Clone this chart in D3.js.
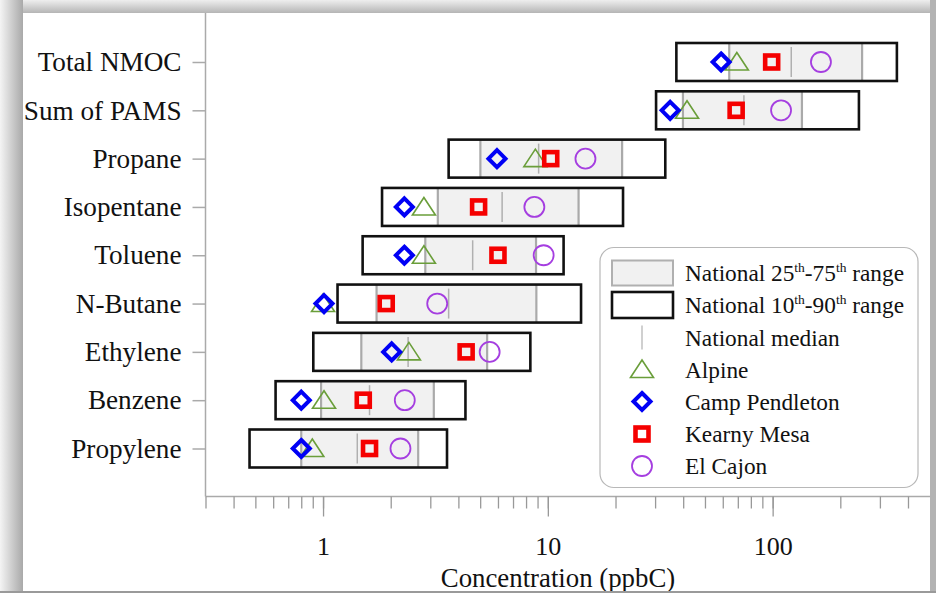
<!DOCTYPE html>
<html>
<head>
<meta charset="utf-8">
<script src="https://cdn.jsdelivr.net/npm/d3@7"></script>
<style>
  body { margin: 0; background: #fff; }
  svg { display: block; font-family: "Liberation Serif", "Times New Roman", serif; }
</style>
</head>
<body>
<div id="chart"></div>
<script>
const categories = ["Total NMOC", "Sum of PAMS", "Propane", "Isopentane", "Toluene",
    "N-Butane", "Ethylene", "Benzene", "Propylene"];

// national percentiles (ppbC)
const p10 = [37.3, 30.3, 3.62, 1.83, 1.50, 1.16, 0.905, 0.615, 0.471];
const p25 = [64.1, 39.9, 5.01, 3.24, 2.85, 1.73, 1.48, 0.98, 0.80];
const p50 = [121, 74.5, 9.1, 6.26, 4.63, 3.62, 2.39, 1.61, 1.42];
const p75 = [250, 135, 21.4, 13.7, 8.86, 8.89, 5.37, 3.11, 2.65];
const p90 = [357, 242, 33.3, 21.6, 11.75, 14.05, 8.36, 4.30, 3.56];

// sites
const alpine = [69.3, 41.6, 8.8, 2.81, 2.81, 1.0, 2.41, 1.01, 0.896];
const campPendleton = [59, 35, 5.94, 2.30, 2.30, 1.01, 2.02, 0.80, 0.80];
const kearnyMesa = [99, 68.8, 10.3, 4.92, 6.0, 1.91, 4.33, 1.51, 1.61];
const elCajon = [164, 109, 14.7, 8.71, 9.58, 3.22, 5.51, 2.31, 2.21];

const majorTicks = [1, 10, 100];

const width = 936;
const height = 593;

const svg = d3.select("#chart")
    .append("svg")
    .attr("width", width)
    .attr("height", height);

// picture frame / shadow
const defs = svg.append("defs");
const gl = defs.append("linearGradient").attr("id", "shadeL").attr("x1", 0).attr("x2", 1).attr("y1", 0).attr("y2", 0);
gl.append("stop").attr("offset", "0%").attr("stop-color", "#f4f4f4");
gl.append("stop").attr("offset", "100%").attr("stop-color", "#a9a9a9");
const gt = defs.append("linearGradient").attr("id", "shadeT").attr("x1", 0).attr("x2", 0).attr("y1", 0).attr("y2", 1);
gt.append("stop").attr("offset", "0%").attr("stop-color", "#eeeeee");
gt.append("stop").attr("offset", "100%").attr("stop-color", "#b5b5b5");

svg.append("rect").attr("width", width).attr("height", height).attr("fill", "#c4c4c4");
svg.append("rect").attr("x", 0).attr("y", 0).attr("width", width).attr("height", 13).attr("fill", "url(#shadeT)");
svg.append("rect").attr("x", 0).attr("y", 0).attr("width", 23).attr("height", height).attr("fill", "url(#shadeL)");
svg.append("rect").attr("x", 23).attr("y", 13).attr("width", 907).attr("height", 578).attr("fill", "#fff");

const x = d3.scaleLog()
    .domain([0.3, 490])
    .range([205.5, 927.8]);

const y = d3.scalePoint()
    .domain(categories)
    .range([62, 448.5]);

const axisY = 496.5;
const boxH = 38;

// axes
svg.append("line")
    .attr("x1", 205.5).attr("x2", 205.5)
    .attr("y1", 13).attr("y2", axisY)
    .attr("stroke", "#aaa").attr("stroke-width", 1.5);
svg.append("line")
    .attr("x1", 205.5).attr("x2", 930)
    .attr("y1", axisY).attr("y2", axisY)
    .attr("stroke", "#aaa").attr("stroke-width", 1.5);

const minorAxis = svg.append("g")
    .attr("transform", "translate(0," + axisY + ")")
    .call(d3.axisBottom(x).tickSize(12).tickFormat(""));
minorAxis.select(".domain").remove();

const majorAxis = svg.append("g")
    .attr("transform", "translate(0," + axisY + ")")
    .call(d3.axisBottom(x).tickValues(majorTicks).tickSize(20).tickPadding(20)
        .tickFormat(d3.format("d")));
majorAxis.select(".domain").remove();

svg.selectAll(".tick line").attr("stroke", "#999").attr("stroke-width", 1.3);
majorAxis.selectAll("text")
    .attr("font-family", "Liberation Serif")
    .attr("font-size", 26)
    .attr("fill", "#111");

const yAxis = svg.append("g")
    .attr("transform", "translate(205.5,0)")
    .call(d3.axisLeft(y).tickSize(13).tickPadding(11));
yAxis.select(".domain").remove();
yAxis.selectAll(".tick line").attr("stroke", "#aaa").attr("stroke-width", 1.5);
yAxis.selectAll("text")
    .attr("font-family", "Liberation Serif")
    .attr("font-size", 27.2)
    .attr("fill", "#111");

svg.append("text")
    .attr("x", 558)
    .attr("y", 587)
    .attr("text-anchor", "middle")
    .attr("font-size", 26.8)
    .attr("fill", "#111")
    .text("Concentration (ppbC)");

// boxes
const rows = categories.map((c, i) => ({
    name: c, p10: p10[i], p25: p25[i], p50: p50[i], p75: p75[i], p90: p90[i],
    alpine: alpine[i], camp: campPendleton[i], kearny: kearnyMesa[i], cajon: elCajon[i]
}));

const row = svg.selectAll("g.row")
    .data(rows)
    .enter()
    .append("g")
    .attr("class", "row");

row.append("rect")
    .attr("x", d => x(d.p10))
    .attr("y", d => y(d.name) - boxH / 2)
    .attr("width", d => x(d.p90) - x(d.p10))
    .attr("height", boxH)
    .attr("fill", "#fff");

row.append("rect")
    .attr("x", d => x(d.p25))
    .attr("y", d => y(d.name) - boxH / 2)
    .attr("width", d => x(d.p75) - x(d.p25))
    .attr("height", boxH)
    .attr("fill", "#f1f1f1");

row.selectAll("line.q")
    .data(d => [{v: d.p25, n: d.name}, {v: d.p75, n: d.name}])
    .enter()
    .append("line")
    .attr("x1", d => x(d.v)).attr("x2", d => x(d.v))
    .attr("y1", d => y(d.n) - boxH / 2).attr("y2", d => y(d.n) + boxH / 2)
    .attr("stroke", "#aaa").attr("stroke-width", 2.2);

row.append("line")
    .attr("x1", d => x(d.p50)).attr("x2", d => x(d.p50))
    .attr("y1", d => y(d.name) - boxH / 2 + 4).attr("y2", d => y(d.name) + boxH / 2 - 4)
    .attr("stroke", "#b0b0b0").attr("stroke-width", 1.5);

row.append("rect")
    .attr("x", d => x(d.p10))
    .attr("y", d => y(d.name) - boxH / 2)
    .attr("width", d => x(d.p90) - x(d.p10))
    .attr("height", boxH)
    .attr("fill", "none")
    .attr("stroke", "#111")
    .attr("stroke-width", 2.6);

// marker shapes
const triPath = "M0,-9.5L11.5,8L-11.5,8Z";
const diaPath = "M0,-8.5L8.5,0L0,8.5L-8.5,0Z";

function drawTri(sel) {
    sel.append("path").attr("d", triPath)
        .attr("fill", "none").attr("stroke", "#6a9e3a").attr("stroke-width", 1.6);
}
function drawDia(sel) {
    sel.append("path").attr("d", diaPath)
        .attr("fill", "none").attr("stroke", "#0000f5").attr("stroke-width", 4);
}
function drawSq(sel) {
    sel.append("rect").attr("x", -6.5).attr("y", -6.5).attr("width", 13).attr("height", 13)
        .attr("fill", "none").attr("stroke", "#f50000").attr("stroke-width", 4.6);
}
function drawCirc(sel) {
    sel.append("circle").attr("r", 10)
        .attr("fill", "none").attr("stroke", "#a53ee0").attr("stroke-width", 1.8);
}

row.append("g")
    .attr("transform", d => "translate(" + x(d.alpine) + "," + y(d.name) + ")")
    .call(drawTri);
row.append("g")
    .attr("transform", d => "translate(" + x(d.camp) + "," + y(d.name) + ")")
    .call(drawDia);
row.append("g")
    .attr("transform", d => "translate(" + x(d.kearny) + "," + y(d.name) + ")")
    .call(drawSq);
row.append("g")
    .attr("transform", d => "translate(" + x(d.cajon) + "," + y(d.name) + ")")
    .call(drawCirc);

// legend
const legend = svg.append("g").attr("class", "legend");
legend.append("rect")
    .attr("x", 600).attr("y", 247.5)
    .attr("width", 318).attr("height", 240)
    .attr("rx", 14)
    .attr("fill", "#fff")
    .attr("stroke", "#b8b8b8")
    .attr("stroke-width", 1.2);

const legendRows = [273, 305, 337.5, 369.5, 401.5, 434, 466];
const sx = 642;

legend.append("rect")
    .attr("x", 612).attr("y", legendRows[0] - 12.5)
    .attr("width", 61).attr("height", 25)
    .attr("fill", "#f1f1f1").attr("stroke", "#b0b0b0").attr("stroke-width", 2);
legend.append("rect")
    .attr("x", 612).attr("y", legendRows[1] - 13)
    .attr("width", 61).attr("height", 26)
    .attr("fill", "#fff").attr("stroke", "#111").attr("stroke-width", 2.6);
legend.append("line")
    .attr("x1", sx).attr("x2", sx)
    .attr("y1", legendRows[2] - 12).attr("y2", legendRows[2] + 12)
    .attr("stroke", "#c0c0c0").attr("stroke-width", 1.5);
legend.append("g").attr("transform", "translate(" + sx + "," + legendRows[3] + ")").call(drawTri);
legend.append("g").attr("transform", "translate(" + sx + "," + legendRows[4] + ")").call(drawDia);
legend.append("g").attr("transform", "translate(" + sx + "," + legendRows[5] + ")").call(drawSq);
legend.append("g").attr("transform", "translate(" + sx + "," + legendRows[6] + ")").call(drawCirc);

const lx = 685;
function legendText(yy) {
    return legend.append("text")
        .attr("x", lx).attr("y", yy + 8)
        .attr("font-size", 23.3)
        .attr("fill", "#111");
}
function ordinalRange(t, a, b) {
    t.append("tspan").text("National " + a);
    t.append("tspan").attr("font-size", 13.5).attr("dy", -9).text("th");
    t.append("tspan").attr("dy", 9).text("-" + b);
    t.append("tspan").attr("font-size", 13.5).attr("dy", -9).text("th");
    t.append("tspan").attr("dy", 9).text(" range");
}
ordinalRange(legendText(legendRows[0]), "25", "75");
ordinalRange(legendText(legendRows[1]), "10", "90");
legendText(legendRows[2]).text("National median");
legendText(legendRows[3]).text("Alpine");
legendText(legendRows[4]).text("Camp Pendleton");
legendText(legendRows[5]).text("Kearny Mesa");
legendText(legendRows[6]).text("El Cajon");

// right / bottom edge of frame
svg.append("rect").attr("x", 930).attr("y", 0).attr("width", 6).attr("height", height).attr("fill", "#b3b3b3");
svg.append("rect").attr("x", 0).attr("y", 591).attr("width", width).attr("height", 2).attr("fill", "#9a9a9a");
</script>
</body>
</html>
